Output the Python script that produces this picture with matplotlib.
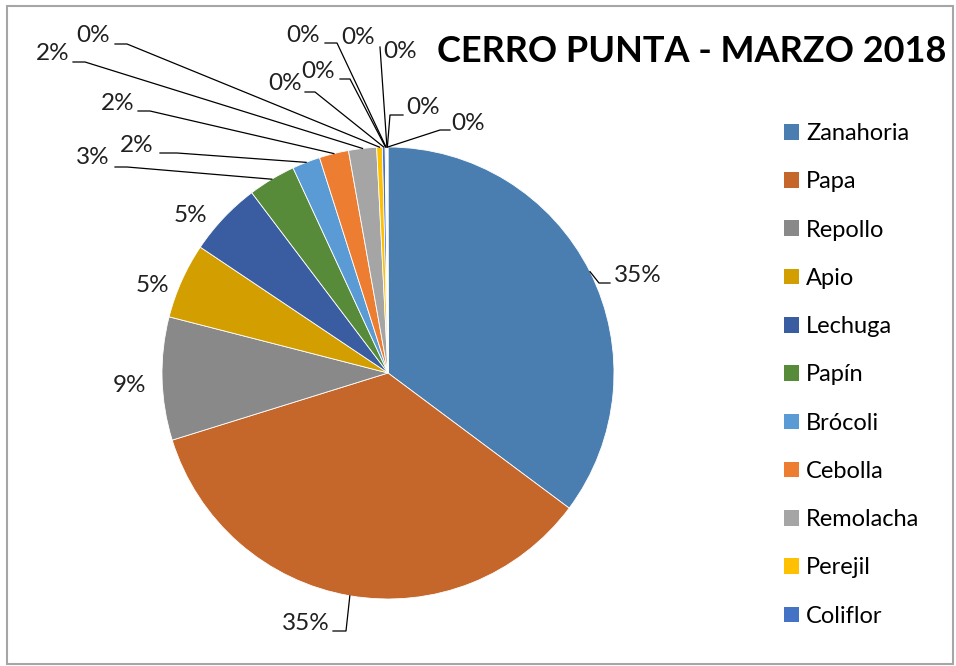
import matplotlib.pyplot as plt
from matplotlib.patches import Patch, Rectangle
import numpy as np

W, H = 956, 666

categorias = ["Zanahoria", "Papa", "Repollo", "Apio", "Lechuga", "Papín",
              "Brócoli", "Cebolla", "Remolacha", "Perejil", "Coliflor"]
valores = [35.2, 35.0, 8.8, 5.4, 5.3, 3.4, 2.0, 2.1, 2.0, 0.4, 0.2]
# productos muy pequenos que no salen en la leyenda (todos 0%)
otros = [0.04, 0.04, 0.03, 0.03, 0.03, 0.03]

colores = ["#4A7EB1", "#C5662A", "#898989", "#D39F00", "#3A5DA1", "#578B3A",
           "#5B9BD5", "#ED7D31", "#A5A5A5", "#FFC000", "#4472C4",
           "#255E91", "#9E480E", "#636363", "#997300", "#264478", "#43682B"]

titulo = "CERRO PUNTA - MARZO 2018"

# layout en pixeles (y hacia abajo, como en la imagen)
centro = (388, 373)
radio = 226
pos_etiquetas = [(638, 275), (306, 624), (130, 385), (152, 285), (190, 215),
                 (93, 158), (137, 146), (118, 103), (53, 53), (93, 35),
                 (285, 83), (318, 72), (303, 35), (358, 38), (400, 52),
                 (423, 107), (468, 123)]
guias = [[(610, 283), (599, 283)], [(333, 631), (346, 631)], None, None, None,
         [(115, 167), (127, 167)], [(160, 153), (177, 153)],
         [(138, 111), (150, 111)], [(73, 62), (85, 62)], [(115, 44), (127, 44)],
         [(305, 92), (315, 92)], [(340, 79), (350, 79)], [(325, 43), (337, 43)],
         None, [(380, 47)], [(403, 115), (390, 115)], [(450, 130), (440, 130)]]


def px(p):
    return (p[0], H - p[1])


plt.rcParams['font.family'] = ['Lato', 'DejaVu Sans']

fig = plt.figure(figsize=(W / 100, H / 100), dpi=100)
ax = fig.add_axes([0, 0, 1, 1])

todos = valores + otros
total = sum(todos)
wedges, _ = ax.pie(todos, colors=colores, startangle=90, counterclock=False,
                   center=px(centro), radius=radio,
                   wedgeprops=dict(edgecolor='white', linewidth=0.6))
ax.set_xlim(0, W)
ax.set_ylim(0, H)
ax.set_aspect('equal')
ax.axis('off')

cx, cy = px(centro)
for i, w in enumerate(wedges):
    ang = np.deg2rad((w.theta1 + w.theta2) / 2)
    ancla = (cx + radio * np.cos(ang), cy + radio * np.sin(ang))
    pct = todos[i] / total * 100
    tx, ty = px(pos_etiquetas[i])
    ax.text(tx, ty, f"{pct:.0f}%", ha='center', va='center', fontsize=17.5,
            color='#202020')
    if guias[i] is not None:
        pts = [px(p) for p in guias[i]] + [ancla]
        xs, ys = zip(*pts)
        ax.plot(xs, ys, color='black', lw=0.9)

ax.text(692, H - 52, titulo, ha='center', va='center', fontsize=26,
        fontweight='bold', color='black')

handles = [Patch(facecolor=c) for c in colores[:len(categorias)]]
ax.legend(handles, categorias, loc='upper left', bbox_to_anchor=(784, H - 123),
          bbox_transform=ax.transData, frameon=False, fontsize=17,
          borderpad=0, borderaxespad=0, handlelength=0.64, handleheight=0.64,
          handletextpad=0.3, labelspacing=1.155)

ax.add_patch(Rectangle((7, 2), 946, 658, fill=False, edgecolor='#A6A6A6',
                       lw=1.5, clip_on=False))

fig.savefig("out.png", dpi=100)
